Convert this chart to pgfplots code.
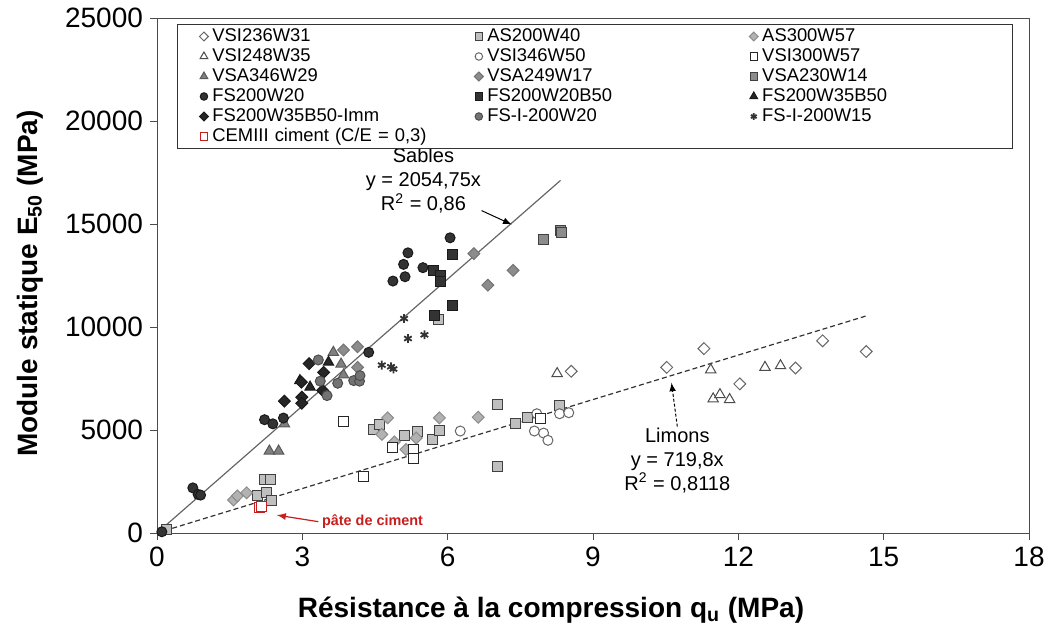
\documentclass[border=0pt]{standalone}
\usepackage{fontspec}
\setmainfont{Liberation Sans}
\usepackage{pgfplots}
\pgfplotsset{compat=1.18}
\definecolor{rouge}{RGB}{200,30,30}
\pgfplotsset{
  pt/.style={only marks, line width=0.5pt},
}
\begin{document}
\begin{tikzpicture}
\begin{axis}[
  scale only axis, width=436pt, height=257.5pt,
  xmin=0, xmax=18, ymin=0, ymax=25000,
  xtick={0,3,...,18}, ytick={0,5000,...,25000},
  scaled y ticks=false,
  /pgf/number format/1000 sep={},
  /pgf/number format/assume math mode=true,
  tick label style={font=\fontsize{14}{16}\selectfont},
  tick align=outside, xtick pos=bottom, ytick pos=left,
  major tick length=3.5pt,
  axis line style={black!70}, tick style={black!70},
  every axis x label/.style={at={(axis description cs:0.5,0)}, xshift=-21pt, yshift=-38.5pt, anchor=center},
  every axis y label/.style={at={(axis description cs:0,0.5)}, xshift=-63.5pt, yshift=-4pt, rotate=90, anchor=center},
  label style={font=\fontsize{14}{16}\selectfont\bfseries},
  xlabel={Résistance à la compression q\textsubscript{u} (MPa)},
  ylabel={Module statique E\textsubscript{50} (MPa)},
  legend columns=3,
  legend cell align=left,
  legend style={at={(axis description cs:0,1)}, anchor=north west, xshift=10pt, yshift=-3pt,
    draw=black!80, line width=0.5pt, inner xsep=11pt, inner ysep=1pt,
    font=\fontsize{9.2}{11}\selectfont,
    nodes={inner ysep=0.5pt, inner xsep=2pt, text width=112pt, text height=6.8pt, text depth=2.2pt},
    /tikz/every even column/.append style={column sep=17pt}, row sep=0pt},
  legend image code/.code={\draw[#1,/tikz/every mark/.append style={scale=0.75}] plot coordinates {(0pt,0pt)};},
]
% droites de tendance
\addplot[black!60, line width=0.6pt, forget plot] coordinates {(0,0) (8.33,17116)};
\addplot[black!80, line width=0.6pt, dash pattern=on 2.5pt off 1.5pt, forget plot] coordinates {(0,0) (14.63,10531)};

% VSI236W31
\addplot[pt, mark=square*, mark size=2.1pt, mark options={rotate=45, fill=white, draw=black!60}] coordinates {
(8.55,7850) (10.52,8040) (11.29,8950) (12.03,7240) (13.18,8010) (13.74,9330) (14.64,8810)};
\addlegendentry{VSI236W31}
% AS200W40
\addplot[pt, mark=square*, mark size=2.5pt, mark options={fill=black!25, draw=black!75}] coordinates {
(0.2,150) (2.08,1800) (2.25,1950) (2.37,1600) (2.22,2610) (2.34,2610) (4.46,5030) (4.59,5260)
(5.10,4740) (5.37,4950) (5.68,4550) (5.83,4980) (7.02,6240) (7.02,3240) (7.40,5300) (7.64,5590)
(8.31,6190) (5.81,10350)};
\addlegendentry{AS200W40}
% AS300W57
\addplot[pt, mark=square*, mark size=2.1pt, mark options={rotate=45, fill=black!30, draw=black!45}] coordinates {
(1.58,1600) (1.66,1800) (1.85,1950) (4.76,5590) (4.64,4790) (4.90,4420) (5.14,4050) (5.35,4610)
(5.83,5590) (6.63,5620)};
\addlegendentry{AS300W57}
% VSI248W35
\addplot[pt, mark=triangle*, mark size=3pt, mark options={fill=white, draw=black!70}] coordinates {
(8.26,7740) (11.43,7920) (12.55,8040) (12.87,8120) (11.48,6510) (11.62,6720) (11.82,6480)};
\addlegendentry{VSI248W35}
% VSI346W50
\addplot[pt, mark=*, mark size=2.5pt, mark options={fill=white, draw=black!60}] coordinates {
(6.26,4950) (7.84,5790) (7.79,4950) (7.98,4850) (8.07,4500) (8.31,5790) (8.50,5840)};
\addlegendentry{VSI346W50}
% VSI300W57
\addplot[pt, mark=square*, mark size=2.5pt, mark options={fill=white, draw=black!85}] coordinates {
(3.85,5430) (4.26,2720) (4.87,4140) (5.30,4050) (5.30,3610) (7.91,5540)};
\addlegendentry{VSI300W57}
% VSA346W29
\addplot[pt, mark=triangle*, mark size=3pt, mark options={fill=black!50, draw=black!65}] coordinates {
(2.32,3980) (2.51,3980) (2.63,5300) (3.64,8770) (3.80,8200) (3.85,7670)};
\addlegendentry{VSA346W29}
% VSA249W17
\addplot[pt, mark=square*, mark size=2.1pt, mark options={rotate=45, fill=black!45, draw=black!55}] coordinates {
(3.85,8880) (4.14,9040) (4.14,8040) (6.54,13560) (7.35,12750) (6.83,12030)};
\addlegendentry{VSA249W17}
% VSA230W14
\addplot[pt, mark=square*, mark size=2.5pt, mark options={fill=black!45, draw=black!75}] coordinates {
(7.98,14250) (8.33,14700) (8.35,14600)};
\addlegendentry{VSA230W14}
% FS200W20
\addplot[pt, mark=*, mark size=2.5pt, mark options={fill=black!80, draw=black!90}] coordinates {
(0.10,60) (0.74,2190) (0.85,1870) (0.90,1840) (2.22,5500) (2.39,5300) (2.61,5580) (4.37,8770)
(6.05,14330) (5.18,13600) (5.09,13040) (4.87,12230) (5.12,12440) (5.49,12880)};
\addlegendentry{FS200W20}
% FS200W20B50
\addplot[pt, mark=square*, mark size=2.5pt, mark options={fill=black!80, draw=black!90}] coordinates {
(6.10,13520) (5.70,12750) (5.85,12510) (5.85,12190) (6.10,11060) (5.72,10540)};
\addlegendentry{FS200W20B50}
% FS200W35B50
\addplot[pt, mark=triangle*, mark size=3pt, mark options={fill=black!85, draw=black!90}] coordinates {
(2.95,7400) (3.16,7080) (3.54,8290)};
\addlegendentry{FS200W35B50}
% FS200W35B50-Imm
\addplot[pt, mark=square*, mark size=2.1pt, mark options={rotate=45, fill=black!85, draw=black!90}] coordinates {
(2.63,6400) (2.99,6590) (2.99,6300) (3.44,7800) (3.42,6920) (3.14,8220) (2.98,7320)};
\addlegendentry{FS200W35B50-Imm}
% FS-I-200W20
\addplot[pt, mark=*, mark size=2.5pt, mark options={fill=black!55, draw=black!70}] coordinates {
(3.33,8400) (3.37,7370) (3.51,6670) (3.73,7270) (4.06,7400) (4.18,7370) (4.19,7640)};
\addlegendentry{FS-I-200W20}
% FS-I-200W15
\addplot[pt, mark=asterisk, mark size=2.2pt, mark options={draw=black!80, line width=0.9pt}] coordinates {
(4.64,8150) (4.83,8070) (4.88,7960) (5.10,10410) (5.52,9620) (5.18,9440)};
\addlegendentry{FS-I-200W15}
% CEMIII
\addplot[pt, mark=square*, mark size=2.5pt, mark options={fill=white, draw=rouge}] coordinates {
(2.11,1220) (2.15,1300)};
\addlegendentry{CEMIII ciment (C/E = 0,3)}

% annotations
\node[align=center, font=\fontsize{10}{12}\selectfont] at (axis cs:5.5,17120)
  {Sables\\y = 2054,75x\\R\textsuperscript{2} = 0,86};
\draw[-latex, line width=0.5pt] (axis cs:6.70,15650) -- (axis cs:7.32,14980);
\node[align=center, font=\fontsize{10}{12}\selectfont] at (axis cs:10.74,3530)
  {Limons\\y = 719,8x\\R\textsuperscript{2} = 0,8118};
\draw[-latex, line width=0.5pt, dash pattern=on 1.5pt off 1pt] (axis cs:10.74,5170) -- (axis cs:10.62,7300);
\node[anchor=west, text=rouge, font=\fontsize{7.2}{8}\selectfont\bfseries, inner sep=0pt] at (axis cs:3.40,530) {pâte de ciment};
\draw[-latex, rouge, line width=0.6pt] (axis cs:3.33,550) -- (axis cs:2.47,870);

\coordinate (bl) at (rel axis cs:0,0);
\coordinate (tr) at (rel axis cs:1,1);
\end{axis}
\pgfresetboundingbox
\useasboundingbox ([shift={(-78.5pt,-49pt)}]bl) rectangle ([shift={(8.5pt,9pt)}]tr);
\end{tikzpicture}
\end{document}
